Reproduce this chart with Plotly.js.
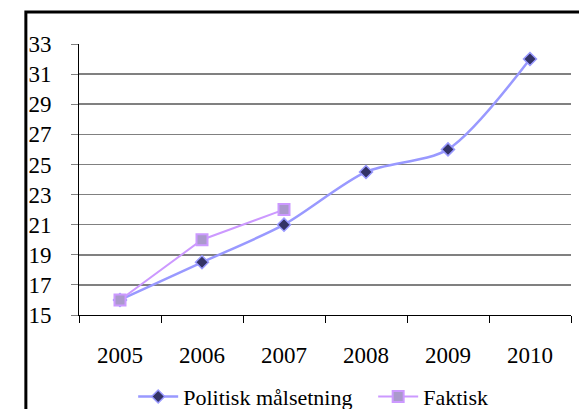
<!DOCTYPE html>
<html>
<head>
<meta charset="utf-8">
<script src="https://cdn.plot.ly/plotly-3.0.1.min.js"></script>
<style>html,body{margin:0;padding:0;background:#fff;}#chart{width:579px;height:409px;}</style>
</head>
<body>
<div id="chart"></div>
<script>
var years = ['2005', '2006', '2007', '2008', '2009', '2010'];
var politiskName = 'Politisk målsetning';
var politiskValues = [16, 18.5, 21, 24.5, 26, 32];
var faktiskName = 'Faktisk';
var faktiskYears = ['2005', '2006', '2007'];
var faktiskValues = [16, 20, 22];
var yTicks = [15, 17, 19, 21, 23, 25, 27, 29, 31, 33];

function f(s) { return {family: 'Liberation Serif', size: s, color: '#000'}; }

var traces = [
  {
    x: years, y: politiskValues, name: politiskName, type: 'scatter', mode: 'lines+markers',
    line: {color: '#9999FF', width: 2.5, shape: 'spline', smoothing: 0.8},
    marker: {symbol: 'diamond', size: 10, color: '#333366', line: {color: '#9999FF', width: 1.5}}
  },
  {
    x: faktiskYears, y: faktiskValues, name: faktiskName, type: 'scatter', mode: 'lines+markers',
    line: {color: '#CC99FF', width: 2},
    marker: {symbol: 'square', size: 11, color: '#AA99CC', line: {color: '#CC99FF', width: 2}}
  }
];

var layout = {
  width: 579, height: 409,
  margin: {l: 79, r: 8, t: 44, b: 94, autoexpand: false},
  paper_bgcolor: '#fff', plot_bgcolor: '#fff',
  font: f(22),
  showlegend: true,
  legend: {orientation: 'h', xref: 'container', x: 0.23, xanchor: 'left', yref: 'container', y: 0.03, yanchor: 'middle',
           font: f(22), itemwidth: 40, entrywidth: 185},
  xaxis: {
    type: 'category', categoryarray: years, range: [-0.5, 5.5],
    showline: true, linecolor: '#000', linewidth: 1,
    ticks: 'outside', tickson: 'boundaries', ticklen: 7, tickcolor: '#000',
    showgrid: false, zeroline: false, tickfont: f(23), ticklabelstandoff: 19
  },
  yaxis: {
    range: [15, 33], tickvals: yTicks, ticktext: yTicks.map(String),
    showline: true, linecolor: '#000', linewidth: 1,
    ticks: 'outside', ticklen: 7, tickcolor: '#808080',
    showgrid: true, gridcolor: '#808080', gridwidth: 1.5, zeroline: false,
    tickfont: f(23), ticklabelstandoff: 15
  },
  shapes: [
    {type: 'rect', xref: 'paper', yref: 'paper', x0: -0.108, x1: 1.1, y0: -0.5, y1: 1.118,
     line: {color: '#000', width: 3}, fillcolor: 'rgba(0,0,0,0)', layer: 'above'}
  ]
};

Plotly.newPlot('chart', traces, layout, {displayModeBar: false, staticPlot: true});
</script>
</body>
</html>
